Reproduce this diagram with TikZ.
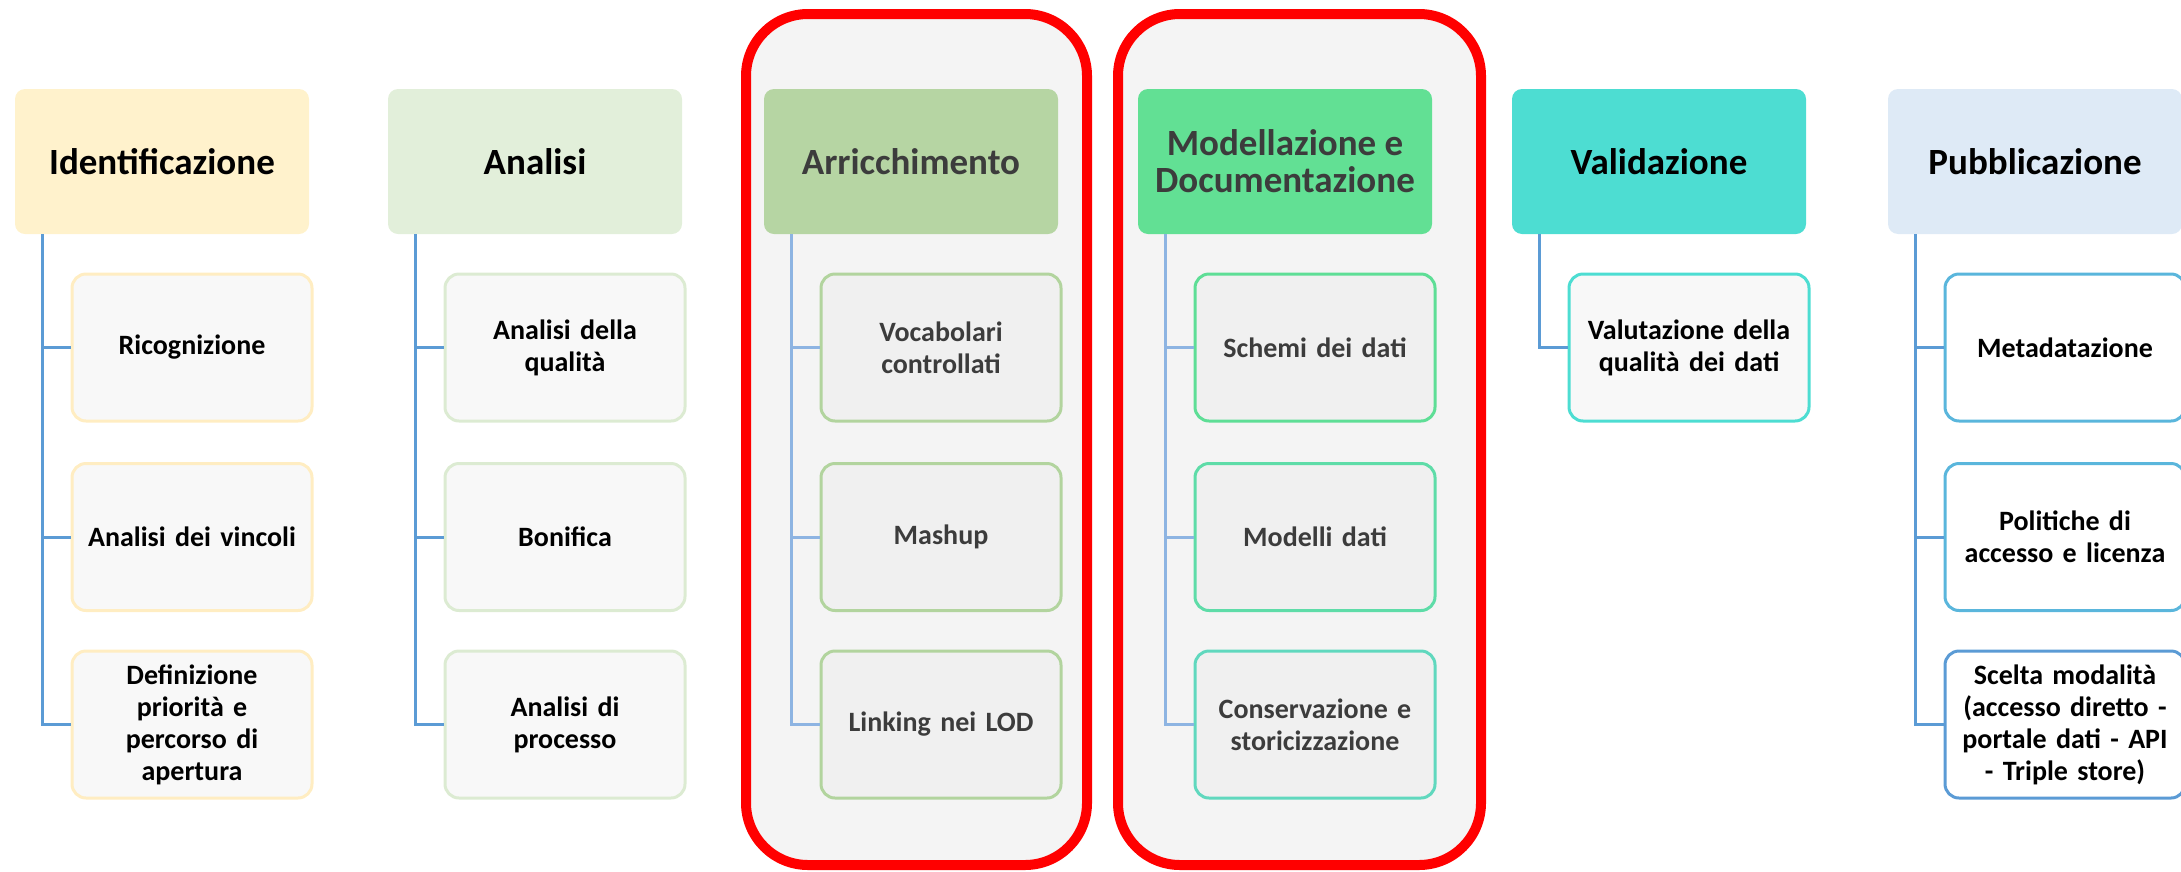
\documentclass[tikz,border=0pt]{standalone}
\usepackage{fontspec}
\setmainfont{Carlito}
\usepackage{tikz}

\definecolor{identfill}{HTML}{FFF2CC}
\definecolor{identline}{HTML}{FFEDC2}
\definecolor{analfill}{HTML}{E2EFDA}
\definecolor{analline}{HTML}{DCEBD2}
\definecolor{arrfill}{HTML}{B6D5A3}
\definecolor{arrline}{HTML}{B2D49E}
\definecolor{modfill}{HTML}{62E094}
\definecolor{modlineA}{HTML}{5EDE96}
\definecolor{modlineB}{HTML}{5EDCA8}
\definecolor{modlineC}{HTML}{60D8BE}
\definecolor{valfill}{HTML}{4DDDD2}
\definecolor{pubfill}{HTML}{DEEAF6}
\definecolor{publineA}{HTML}{5AB6DC}
\definecolor{publineB}{HTML}{5B9BD5}
\definecolor{linkblue}{HTML}{5B9BD5}
\definecolor{softblue}{HTML}{8DB4E2}
\definecolor{boxgrey}{HTML}{F4F4F4}
\definecolor{leafgrey}{HTML}{F8F8F8}
\definecolor{leafdark}{HTML}{F0F0F0}
\definecolor{framered}{HTML}{FF0000}
\definecolor{dimtext}{HTML}{3C3C3C}

\begin{document}
\begin{tikzpicture}[x=1pt, y=-1pt,
        hdr/.style = {rectangle, rounded corners=10pt, minimum width=294pt, minimum height=145pt,
                      inner sep=0pt, align=center, font=\bfseries\fontsize{37}{41}\selectfont},
        leaf/.style = {rectangle, rounded corners=14pt, line width=3pt, minimum width=240pt,
                       minimum height=147pt, text width=228pt, inner sep=0pt, align=center,
                       font=\bfseries\fontsize{28}{32}\selectfont},
        conn/.style = {draw=linkblue, line width=3pt},
        softconn/.style = {draw=softblue, line width=3pt},
        redframe/.style = {draw=framered, fill=boxgrey, line width=10pt, rounded corners=62pt}]
        \useasboundingbox (0,0) rectangle (2181,871);

        \draw [redframe] (746,14) rectangle (1087,865);
        \draw [redframe] (1118,14) rectangle (1481,865);

        \node [hdr, fill=identfill] (ident) at (162,161.5) {Identificazione};
        \node [hdr, fill=analfill] (anal) at (535,161.5) {Analisi};
        \node [hdr, fill=arrfill, text=dimtext] (arric) at (911,161.5) {Arricchimento};
        \node [hdr, fill=modfill, text=dimtext] (model) at (1285,161.5) {Modellazione e\\[-4pt]Documentazione};
        \node [hdr, fill=valfill] (valid) at (1659,161.5) {Validazione};
        \node [hdr, fill=pubfill] (pubbl) at (2035,161.5) {Pubblicazione};

        \node [leaf, draw=identline, fill=leafgrey] (ricog) at (192,347.5) {Ricognizione};
        \node [leaf, draw=identline, fill=leafgrey] (vincoli) at (192,537) {Analisi dei vincoli};
        \node [leaf, draw=identline, fill=leafgrey] (priorita) at (192,724.5) {Definizione\\priorità e\\percorso di\\apertura};

        \node [leaf, draw=analline, fill=leafgrey] (qualita) at (565,347.5) {Analisi della\\qualità};
        \node [leaf, draw=analline, fill=leafgrey] (bonifica) at (565,537) {Bonifica};
        \node [leaf, draw=analline, fill=leafgrey] (processo) at (565,724.5) {Analisi di\\processo};

        \node [leaf, draw=arrline, fill=leafdark, text=dimtext] (vocab) at (941,347.5) {Vocabolari\\controllati};
        \node [leaf, draw=arrline, fill=leafdark, text=dimtext] (mashup) at (941,537) {Mashup};
        \node [leaf, draw=arrline, fill=leafdark, text=dimtext] (linking) at (941,724.5) {Linking nei LOD};

        \node [leaf, draw=modlineA, fill=leafdark, text=dimtext] (schemi) at (1315,347.5) {Schemi dei dati};
        \node [leaf, draw=modlineB, fill=leafdark, text=dimtext] (modelli) at (1315,537) {Modelli dati};
        \node [leaf, draw=modlineC, fill=leafdark, text=dimtext] (conserv) at (1315,724.5) {Conservazione e\\storicizzazione};

        \node [leaf, draw=valfill, fill=leafgrey] (valut) at (1689,347.5) {Valutazione della\\qualità dei dati};

        \node [leaf, draw=publineA, fill=white] (metadat) at (2065,347.5) {Metadatazione};
        \node [leaf, draw=publineA, fill=white] (politiche) at (2065,537) {Politiche di\\accesso e licenza};
        \node [leaf, draw=publineB, fill=white] (scelta) at (2065,724.5) {Scelta modalità\\(accesso diretto -\\portale dati - API\\- Triple store)};

        \draw [conn] ([xshift=28pt]ident.south west) |- (ricog.west);
        \draw [conn] ([xshift=28pt]ident.south west) |- (vincoli.west);
        \draw [conn] ([xshift=28pt]ident.south west) |- (priorita.west);

        \draw [conn] ([xshift=28pt]anal.south west) |- (qualita.west);
        \draw [conn] ([xshift=28pt]anal.south west) |- (bonifica.west);
        \draw [conn] ([xshift=28pt]anal.south west) |- (processo.west);

        \draw [softconn] ([xshift=28pt]arric.south west) |- (vocab.west);
        \draw [softconn] ([xshift=28pt]arric.south west) |- (mashup.west);
        \draw [softconn] ([xshift=28pt]arric.south west) |- (linking.west);

        \draw [softconn] ([xshift=28pt]model.south west) |- (schemi.west);
        \draw [softconn] ([xshift=28pt]model.south west) |- (modelli.west);
        \draw [softconn] ([xshift=28pt]model.south west) |- (conserv.west);

        \draw [conn] ([xshift=28pt]valid.south west) |- (valut.west);

        \draw [conn] ([xshift=28pt]pubbl.south west) |- (metadat.west);
        \draw [conn] ([xshift=28pt]pubbl.south west) |- (politiche.west);
        \draw [conn] ([xshift=28pt]pubbl.south west) |- (scelta.west);
    \end{tikzpicture}
\end{document}
